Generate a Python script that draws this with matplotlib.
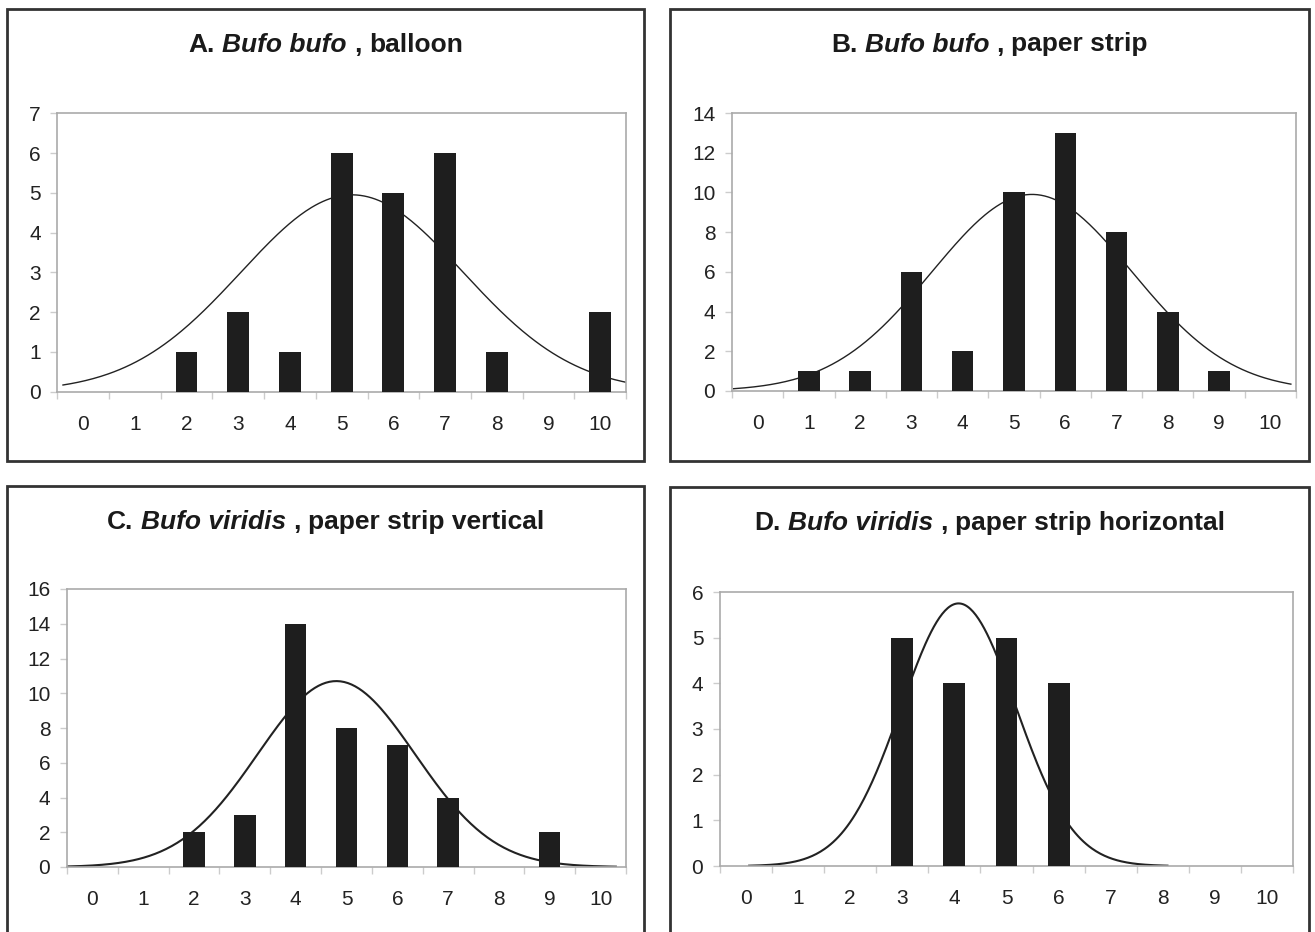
import numpy as np
import matplotlib
matplotlib.use("Agg")
import matplotlib.pyplot as plt
from matplotlib.patches import Rectangle

plt.rcParams['font.family'] = ['Liberation Sans', 'DejaVu Sans']

W, H = 1315, 932

# categories on the x axis
cats = list(range(11))

# bar counts per panel
counts_a = [0, 0, 1, 2, 1, 6, 5, 6, 1, 0, 2]
counts_b = [0, 1, 1, 6, 2, 10, 13, 8, 4, 1, 0]
counts_c = [0, 0, 2, 3, 14, 8, 7, 4, 0, 2, 0]
counts_d = [0, 0, 0, 5, 4, 5, 4, 0, 0, 0, 0]

# fitted normal curve: centre, spread, peak height, x range
curve_a = dict(mu=5.2, sd=2.15, peak=4.95, x0=-0.39, x1=10.5)
curve_b = dict(mu=5.35, sd=1.95, peak=9.9, x0=-0.47, x1=10.4)
curve_c = dict(mu=4.8, sd=1.55, peak=10.7, x0=-0.5, x1=10.3)
curve_d = dict(mu=4.08, sd=1.1, peak=5.75, x0=0.06, x1=8.09)

ymax = [7, 14, 16, 6]
ystep = [1, 2, 2, 1]

titles = [
    ("A.", "Bufo bufo", "balloon"),
    ("B.", "Bufo bufo", "paper strip"),
    ("C.", "Bufo viridis", "paper strip vertical"),
    ("D.", "Bufo viridis", "paper strip horizontal"),
]

# pixel layout: plot rect (left, top, right, bottom), panel box, title baseline
plot_px = [(57.3, 113.3, 626, 391.7), (732, 113, 1296, 391),
           (67, 589, 626, 867), (720, 592, 1293, 866)]
box_px = [(7.3, 9.3, 644, 460.7), (670, 9.3, 1309, 460.7),
          (7.3, 485.7, 644, 940), (670, 487, 1309, 940)]
title_base = [51.5, 51.5, 529, 530]

fig = plt.figure(figsize=(W / 100, H / 100), dpi=100)
fig.patch.set_facecolor('white')

for (l, t, r, b) in box_px:
    fig.patches.append(Rectangle((l / W, 1 - b / H), (r - l) / W, (b - t) / H,
                                 transform=fig.transFigure, fill=False,
                                 edgecolor='#333333', linewidth=2))

all_counts = [counts_a, counts_b, counts_c, counts_d]
all_curves = [curve_a, curve_b, curve_c, curve_d]
curve_lw = [1.0, 1.0, 1.5, 1.5]

for i in range(4):
    l, t, r, b = plot_px[i]
    ax = fig.add_axes([l / W, 1 - b / H, (r - l) / W, (b - t) / H])
    cv = all_curves[i]
    xs = np.linspace(cv['x0'], cv['x1'], 300)
    ys = cv['peak'] * np.exp(-0.5 * ((xs - cv['mu']) / cv['sd']) ** 2)
    ax.plot(xs, ys, color='#222222', lw=curve_lw[i], zorder=2)
    ax.bar(cats, all_counts[i], width=0.42, color='#1e1e1e', zorder=3)

    ax.set_xlim(-0.5, 10.5)
    ax.set_ylim(0, ymax[i])
    ax.set_yticks(np.arange(0, ymax[i] + 1, ystep[i]))
    ax.set_xticks(cats)
    ax.set_xticks(np.arange(-0.5, 11, 1), minor=True)
    ax.tick_params(axis='x', which='major', length=0, pad=16.5, labelsize=15,
                   labelcolor='#222222')
    ax.tick_params(axis='x', which='minor', length=5, width=1, color='#cccccc')
    ax.tick_params(axis='y', length=5, width=1, color='#cccccc', pad=7,
                   labelsize=15, labelcolor='#222222')
    for s in ax.spines.values():
        s.set_color('#aaaaaa')
        s.set_linewidth(1.2)

# titles: bold label, bold italic species, bold rest
renderer = fig.canvas.get_renderer()
fs = 19
gap = 0.278 * fs * 100 / 72
for i in range(4):
    lab, sp, rest = titles[i]
    cx = (box_px[i][0] + box_px[i][2]) / 2
    yb = 1 - title_base[i] / H
    parts = [(lab, 'normal'), (sp, 'italic'), (',', 'normal'), (rest, 'normal')]
    txts = [fig.text(0, yb, s, fontsize=fs, weight='bold', style=st,
                     ha='left', va='baseline', color='#1a1a1a') for s, st in parts]
    widths = [tx.get_window_extent(renderer).width for tx in txts]
    total = sum(widths) + gap * (len(widths) - 1)
    x = cx - total / 2
    for tx, w in zip(txts, widths):
        tx.set_x(x / W)
        x += w + gap

fig.savefig('out.png', dpi=100)
